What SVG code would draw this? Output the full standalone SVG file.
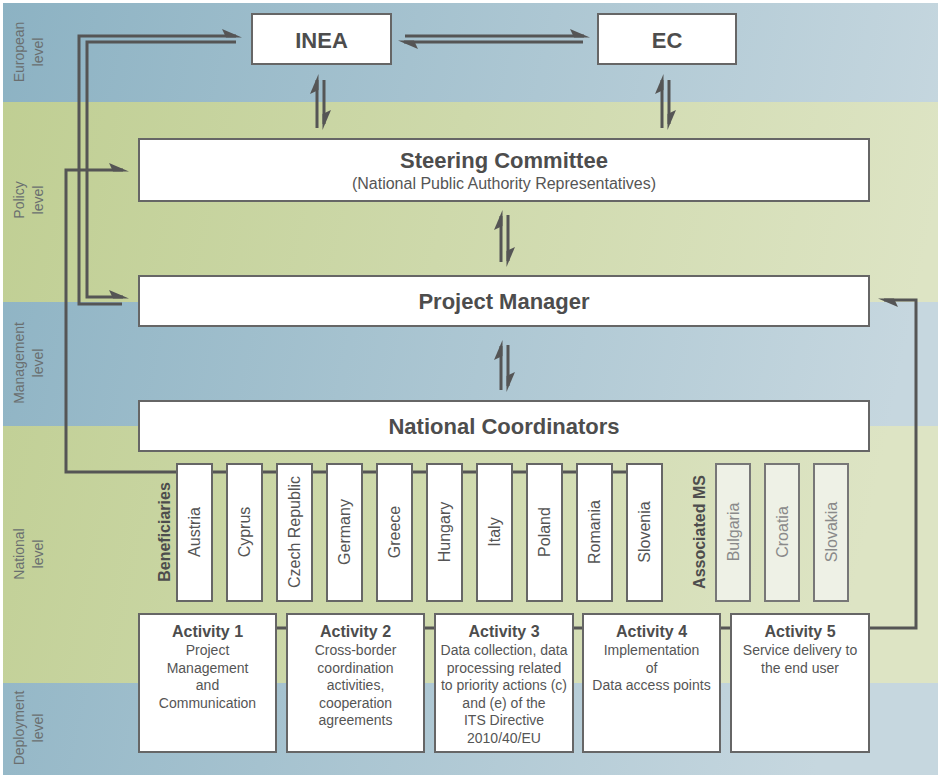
<svg xmlns="http://www.w3.org/2000/svg" width="938" height="777" viewBox="0 0 938 777">
<defs>
<linearGradient id="gb" gradientUnits="userSpaceOnUse" x1="0" y1="0" x2="938" y2="200">
<stop offset="0" stop-color="#8cb2c3"/><stop offset="1" stop-color="#c6d7df"/>
</linearGradient>
<linearGradient id="gg" gradientUnits="userSpaceOnUse" x1="0" y1="0" x2="938" y2="200">
<stop offset="0" stop-color="#bfce92"/><stop offset="1" stop-color="#dde4c4"/>
</linearGradient>
<marker id="h" markerUnits="userSpaceOnUse" markerWidth="40" markerHeight="30" viewBox="-20 -15 40 30" refX="0" refY="0" orient="auto" overflow="visible">
<path d="M6,1.5 L-14,-7 L-10,1.5 Z" fill="#555"/>
</marker>
<style>
.lvl{font-family:"Liberation Sans",Arial,sans-serif;font-size:14px;fill:#6a6f70;text-anchor:middle}
.box{fill:#fff;stroke:#666;stroke-width:2}
.abox{fill:#eef1e6;stroke:#777;stroke-width:2}
.big{font-family:"Liberation Sans",Arial,sans-serif;font-size:22px;font-weight:bold;fill:#4d4d4d;text-anchor:middle}
.sub{font-family:"Liberation Sans",Arial,sans-serif;font-size:16px;fill:#555;text-anchor:middle}
.cty{font-family:"Liberation Sans",Arial,sans-serif;font-size:16px;fill:#555;text-anchor:middle}
.acty{font-family:"Liberation Sans",Arial,sans-serif;font-size:16px;fill:#8a8a8a;text-anchor:middle}
.grp{font-family:"Liberation Sans",Arial,sans-serif;font-size:16px;font-weight:bold;fill:#4d4d4d;text-anchor:middle}
.at{font-family:"Liberation Sans",Arial,sans-serif;font-size:16px;font-weight:bold;fill:#4d4d4d;text-anchor:middle}
.ab{font-family:"Liberation Sans",Arial,sans-serif;font-size:14px;fill:#555;text-anchor:middle}
.con{fill:none;stroke:#555;stroke-width:3;marker-end:url(#h)}
.conn{fill:none;stroke:#555;stroke-width:3}
</style>
</defs>
<rect width="938" height="777" fill="#fff"/>
<g id="bands">
<rect x="3" y="3" width="935" height="99" fill="url(#gb)"/>
<rect x="3" y="102" width="935" height="200" fill="url(#gg)"/>
<rect x="3" y="302" width="935" height="124" fill="url(#gb)"/>
<rect x="3" y="426" width="935" height="257" fill="url(#gg)"/>
<rect x="3" y="683" width="935" height="92" fill="url(#gb)"/>
</g>
<g id="levels">
<text class="lvl" transform="translate(23.5,52) rotate(-90)">European</text>
<text class="lvl" transform="translate(43,52) rotate(-90)">level</text>
<text class="lvl" transform="translate(23.5,200) rotate(-90)">Policy</text>
<text class="lvl" transform="translate(43,200) rotate(-90)">level</text>
<text class="lvl" transform="translate(23.5,363) rotate(-90)">Management</text>
<text class="lvl" transform="translate(43,363) rotate(-90)">level</text>
<text class="lvl" transform="translate(23.5,554) rotate(-90)">National</text>
<text class="lvl" transform="translate(43,554) rotate(-90)">level</text>
<text class="lvl" transform="translate(23.5,728) rotate(-90)">Deployment</text>
<text class="lvl" transform="translate(43,728) rotate(-90)">level</text>
</g>
<g id="connectors">
<path class="con" d="M236 42 H87 V297 H123"/>
<path class="con" d="M122 304 H79 V36 H236"/>
<path class="con" d="M662 472 H66 V170 H123"/>
<path class="con" d="M276 628 H916 V300 H884"/>
<path class="con" d="M405 36 H584"/>
<path class="con" d="M583 42 H404"/>
<path class="con" d="M317 128 V80"/>
<path class="con" d="M324 80 V124"/>
<path class="con" d="M662 128 V80"/>
<path class="con" d="M669 80 V124"/>
<path class="con" d="M501 262 V216"/>
<path class="con" d="M508 215 V261"/>
<path class="con" d="M501 390 V346"/>
<path class="con" d="M508 345 V386"/>
</g>
<g id="inea"><rect class="box" x="252" y="14" width="139" height="50"/><text class="big" x="321.5" y="48">INEA</text></g>
<g id="ec"><rect class="box" x="598" y="14" width="138" height="50"/><text class="big" x="667" y="48">EC</text></g>
<g id="steering"><rect class="box" x="139" y="139" width="730" height="62"/><text class="big" x="504" y="168">Steering Committee</text><text class="sub" x="504" y="189">(National Public Authority Representatives)</text></g>
<g id="pm"><rect class="box" x="139" y="276" width="730" height="50"/><text class="big" x="504" y="309">Project Manager</text></g>
<g id="nc"><rect class="box" x="139" y="401" width="730" height="50"/><text class="big" x="504" y="434">National Coordinators</text></g>
<g id="beneficiaries"><text class="grp" transform="translate(169.5,532) rotate(-90)">Beneficiaries</text></g>
<g id="austria"><rect class="box" x="177" y="464" width="35" height="137"/><text class="cty" transform="translate(200,532) rotate(-90)">Austria</text></g>
<g id="cyprus"><rect class="box" x="227" y="464" width="35" height="137"/><text class="cty" transform="translate(250,532) rotate(-90)">Cyprus</text></g>
<g id="czech"><rect class="box" x="277" y="464" width="35" height="137"/><text class="cty" transform="translate(300,532) rotate(-90)">Czech Republic</text></g>
<g id="germany"><rect class="box" x="327" y="464" width="35" height="137"/><text class="cty" transform="translate(350,532) rotate(-90)">Germany</text></g>
<g id="greece"><rect class="box" x="377" y="464" width="35" height="137"/><text class="cty" transform="translate(400,532) rotate(-90)">Greece</text></g>
<g id="hungary"><rect class="box" x="427" y="464" width="35" height="137"/><text class="cty" transform="translate(450,532) rotate(-90)">Hungary</text></g>
<g id="italy"><rect class="box" x="477" y="464" width="35" height="137"/><text class="cty" transform="translate(500,532) rotate(-90)">Italy</text></g>
<g id="poland"><rect class="box" x="527" y="464" width="35" height="137"/><text class="cty" transform="translate(550,532) rotate(-90)">Poland</text></g>
<g id="romania"><rect class="box" x="577" y="464" width="35" height="137"/><text class="cty" transform="translate(600,532) rotate(-90)">Romania</text></g>
<g id="slovenia"><rect class="box" x="627" y="464" width="35" height="137"/><text class="cty" transform="translate(650,532) rotate(-90)">Slovenia</text></g>
<g id="associated"><text class="grp" transform="translate(705,532) rotate(-90)">Associated MS</text></g>
<g id="bulgaria"><rect class="abox" x="716" y="464" width="34" height="137"/><text class="acty" transform="translate(739,532) rotate(-90)">Bulgaria</text></g>
<g id="croatia"><rect class="abox" x="765" y="464" width="34" height="137"/><text class="acty" transform="translate(788,532) rotate(-90)">Croatia</text></g>
<g id="slovakia"><rect class="abox" x="814" y="464" width="34" height="137"/><text class="acty" transform="translate(837,532) rotate(-90)">Slovakia</text></g>
<g id="activity1"><rect class="box" x="139" y="614" width="137" height="138"/><text class="at" x="207.5" y="637">Activity 1</text>
<text class="ab" x="207.5" y="655">Project</text><text class="ab" x="207.5" y="672.5">Management</text><text class="ab" x="207.5" y="690">and</text><text class="ab" x="207.5" y="707.5">Communication</text></g>
<g id="activity2"><rect class="box" x="287" y="614" width="137" height="138"/><text class="at" x="355.5" y="637">Activity 2</text>
<text class="ab" x="355.5" y="655">Cross-border</text><text class="ab" x="355.5" y="672.5">coordination</text><text class="ab" x="355.5" y="690">activities,</text><text class="ab" x="355.5" y="707.5">cooperation</text><text class="ab" x="355.5" y="725">agreements</text></g>
<g id="activity3"><rect class="box" x="435" y="614" width="138" height="138"/><text class="at" x="504" y="637">Activity 3</text>
<text class="ab" x="504" y="655">Data collection, data</text><text class="ab" x="504" y="672.5">processing related</text><text class="ab" x="504" y="690">to priority actions (c)</text><text class="ab" x="504" y="707.5">and (e) of the</text><text class="ab" x="504" y="725">ITS Directive</text><text class="ab" x="504" y="742.5">2010/40/EU</text></g>
<g id="activity4"><rect class="box" x="583" y="614" width="137" height="138"/><text class="at" x="651.5" y="637">Activity 4</text>
<text class="ab" x="651.5" y="655">Implementation</text><text class="ab" x="651.5" y="672.5">of</text><text class="ab" x="651.5" y="690">Data access points</text></g>
<g id="activity5"><rect class="box" x="731" y="614" width="138" height="138"/><text class="at" x="800" y="637">Activity 5</text>
<text class="ab" x="800" y="655">Service delivery to</text><text class="ab" x="800" y="672.5">the end user</text></g>
</svg>
